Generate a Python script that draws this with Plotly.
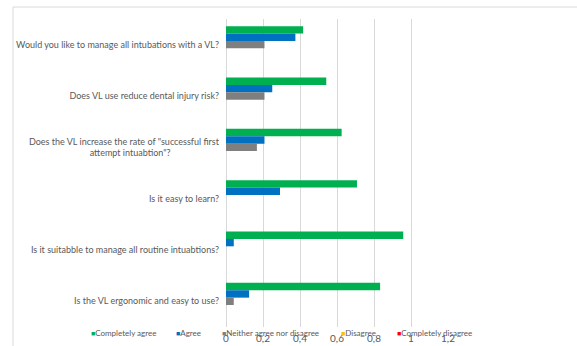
import plotly.graph_objects as go

# Survey questions (top to bottom) and share of answers per response level
questions = [
    "Would you like to manage all intubations with a VL?",
    "Does VL use reduce dental injury risk?",
    "Does the VL increase the rate of \"successful first<br>attempt intuabtion\"?",
    "Is it easy to learn?",
    "Is it suitabble to manage all routine intuabtions?",
    "Is the VL ergonomic and easy to use?",
]
completely_agree = [0.417, 0.542, 0.625, 0.708, 0.958, 0.833]
agree = [0.375, 0.25, 0.208, 0.292, 0.042, 0.125]
neutral = [0.208, 0.208, 0.167, 0, 0, 0.042]
disagree = [0, 0, 0, 0, 0, 0]
completely_disagree = [0, 0, 0, 0, 0, 0]

series_names = ["Completely agree", "Agree", "Neither agree nor disagree",
                "Disagree", "Completely disagree"]
series_values = [completely_agree, agree, neutral, disagree, completely_disagree]
series_colors = ["#00B050", "#0070C0", "#7F7F7F", "#FFC000", "#FF0000"]

x_ticks = [0, 0.2, 0.4, 0.6, 0.8, 1.0, 1.2]

W, H = 577, 346
L, R, T, B = 226, 129, 19, 19
pw, ph = W - L - R, H - T - B


def px_x(p):
    return (p - L) / pw


def px_y(p):
    return (H - B - p) / ph


def centre_lines(label, pad):
    # right-aligned tick labels: pad the shorter second line so it sits centred
    if "<br>" not in label:
        return label
    first, second = label.split("<br>")
    return first + "<br>" + second + "\u00a0" * pad


FONT = "Lato"
TXT = "#595959"

tick_text = [centre_lines(q, 21) for q in questions]

fig = go.Figure()
for name, vals, col in zip(series_names, series_values, series_colors):
    fig.add_trace(go.Bar(
        y=questions, x=vals, name=name, orientation="h",
        marker=dict(color=col, line=dict(width=0)),
        showlegend=False,
    ))

# Legend row drawn as text entries with small coloured squares
legend_x = [89, 174, 220, 339, 395]
for name, col, lx in zip(series_names, series_colors, legend_x):
    fig.add_annotation(
        x=px_x(lx), y=px_y(333), xref="paper", yref="paper",
        xanchor="left", yanchor="middle", showarrow=False,
        text=f"<span style='color:{col};font-size:7px'>■</span>{name}",
        font=dict(family=FONT, size=8, color=TXT),
    )

# Outer chart frame (top and left edges)
frame = "#D9D9D9"
fig.add_shape(type="line", xref="paper", yref="paper",
              x0=px_x(13), x1=px_x(W), y0=px_y(7), y1=px_y(7),
              line=dict(color=frame, width=1))
fig.add_shape(type="line", xref="paper", yref="paper",
              x0=px_x(13), x1=px_x(13), y0=px_y(7), y1=px_y(H),
              line=dict(color=frame, width=1))

fig.update_layout(
    template="none",
    width=W, height=H,
    margin=dict(l=L, r=R, t=T, b=B, pad=0),
    paper_bgcolor="white", plot_bgcolor="white",
    barmode="group", bargap=0.28, bargroupgap=0,
    separators=",.",
    showlegend=False,
    font=dict(family=FONT, size=9, color=TXT),
)
fig.update_xaxes(
    range=[0, 1.2], tickvals=x_ticks, showgrid=True, gridcolor="#D9D9D9",
    gridwidth=1, zeroline=True, zerolinecolor="#D9D9D9", zerolinewidth=1,
    showline=False, ticks="", ticklabelstandoff=4,
    tickfont=dict(size=10, color=TXT), automargin=False, fixedrange=True,
)
fig.update_yaxes(
    autorange="reversed", showgrid=False, showline=False, ticks="",
    zeroline=False, ticklabelstandoff=6, tickfont=dict(size=9, color=TXT),
    tickmode="array", tickvals=questions, ticktext=tick_text,
    automargin=False, fixedrange=True,
)

fig.write_html("out.html")
